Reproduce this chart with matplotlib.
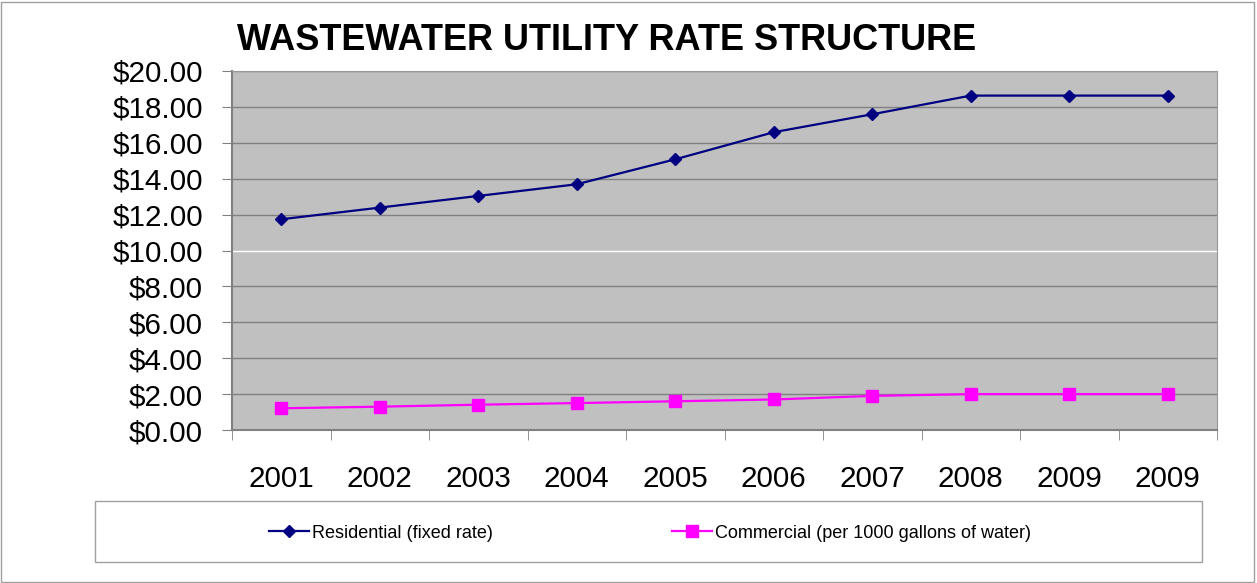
import matplotlib.pyplot as plt
from matplotlib.patches import Rectangle

plt.rcParams['font.family'] = ['Liberation Sans', 'DejaVu Sans']

years = ['2001', '2002', '2003', '2004', '2005', '2006', '2007', '2008', '2009', '2009']
residential = [11.74, 12.39, 13.04, 13.69, 15.08, 16.59, 17.59, 18.63, 18.63, 18.63]
commercial = [1.21, 1.30, 1.41, 1.50, 1.60, 1.70, 1.90, 2.00, 2.00, 2.00]
y_ticks = [0, 2, 4, 6, 8, 10, 12, 14, 16, 18, 20]


def main():
    fig = plt.figure(figsize=(12.57, 5.83), dpi=100)
    ax = fig.add_axes([232 / 1257, 1 - 430 / 583, 985 / 1257, 359 / 583])
    ax.set_facecolor('#C0C0C0')

    x = range(len(years))
    ax.plot(x, residential, color='#000080', marker='D', markersize=6.5,
            linewidth=1.6, label='Residential (fixed rate)')
    ax.plot(x, commercial, color='#FF00FF', marker='s', markersize=8,
            linewidth=1.6, label='Commercial (per 1000 gallons of water)')

    ax.set_xlim(-0.5, len(years) - 0.5)
    ax.set_ylim(0, 20)
    ax.set_yticks(y_ticks)
    ax.set_yticklabels([f'${v:.2f}' for v in y_ticks], fontsize=21.3)
    ax.set_xticks(list(x))
    ax.set_xticklabels(years, fontsize=21.3)
    ax.set_xticks([i - 0.5 for i in range(len(years) + 1)], minor=True)
    ax.tick_params(axis='x', which='major', length=0, pad=25)
    ax.tick_params(axis='x', which='minor', length=7, color='#808080')
    ax.tick_params(axis='y', length=7, color='#808080', pad=14)

    ax.grid(axis='y', color='#808080', linewidth=1)
    for val, line in zip(y_ticks, ax.get_ygridlines()):
        if val == 10:
            line.set_color('white')
    ax.set_axisbelow(True)

    for side in ['top', 'right']:
        ax.spines[side].set_color('#999999')
    for side in ['left', 'bottom']:
        ax.spines[side].set_color('#808080')
        ax.spines[side].set_linewidth(1.5)

    fig.text(607 / 1257, 1 - 40 / 583, 'WASTEWATER UTILITY RATE STRUCTURE',
             fontsize=26, fontweight='bold', ha='center', va='center')

    box = Rectangle((95 / 1257, 1 - 562 / 583), 1107 / 1257, 61 / 583,
                    transform=fig.transFigure, fill=False,
                    edgecolor='#A0A0A0', linewidth=1)
    fig.patches.append(box)
    fig.legend(loc='center', bbox_to_anchor=(650 / 1257, 1 - 533 / 583),
               ncol=2, frameon=False, fontsize=13, columnspacing=9.9,
               handlelength=2.2, handletextpad=0.2)

    border = Rectangle((0.001, 0.002), 0.997, 0.995, transform=fig.transFigure,
                       fill=False, edgecolor='#A0A0A0', linewidth=1)
    fig.patches.append(border)

    fig.savefig('out.png', dpi=100)


if __name__ == '__main__':
    main()
